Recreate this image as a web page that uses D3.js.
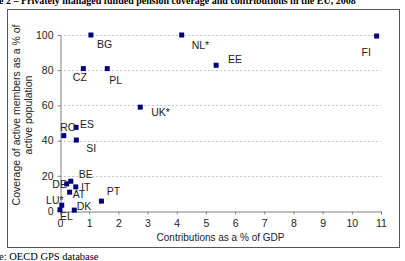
<!DOCTYPE html>
<html>
<head>
<meta charset="utf-8">
<script src="https://cdn.jsdelivr.net/npm/d3@7"></script>
<style>
  body { margin: 0; background: #fff; }
  svg { display: block; }
  text { font-family: "Liberation Sans", Arial, sans-serif; }
</style>
</head>
<body>
<div id="chart"></div>
<script>
// values
const countries = ["BG", "NL*", "FI", "EE", "CZ", "PL", "UK*", "ES", "RO", "SI",
                   "BE", "DE", "IT", "AT", "PT", "LU*", "EL", "DK"];
const contributions = [1.06, 4.17, 10.85, 5.35, 0.8, 1.62, 2.75, 0.55, 0.13, 0.56,
                       0.37, 0.23, 0.54, 0.33, 1.42, 0.06, 0.0, 0.49];
const coverage = [100, 100, 99.4, 82.8, 80.9, 80.9, 59, 47.5, 42.8, 40.3,
                  16.9, 15.4, 13.7, 10.7, 5.6, 3.3, 0.7, 0.5];
// where each country label sits relative to its marker (px)
const labelOffsets = [[6, 12.5], [10, 14], [-15, 19.5], [12, -2], [-10.5, 12], [2, 15],
                      [11, 9], [4, 1], [-3.5, -4.5], [10, 12], [8, -3.7], [-14.4, 3.7],
                      [5.3, 3.7], [3, 6], [5.4, -5.7], [-15.7, -1], [0, 10], [2.4, 0]];
const xTicks = d3.range(0, 12);
const yTicks = [0, 20, 40, 60, 80, 100];

const w = 405, h = 261;
const margin = ({ top: 35, right: 24, bottom: 50, left: 60 });

const svg = d3.select("#chart")
  .append("svg")
  .attr("width", w)
  .attr("height", h);

// outer frame
svg.append("rect")
  .attr("x", 7.5).attr("y", 9.5)
  .attr("width", 392).attr("height", 238)
  .attr("fill", "none")
  .attr("stroke", "#555")
  .attr("stroke-width", 1);

// title (cut off at the top of the picture)
svg.append("text")
  .attr("x", -1)
  .attr("y", 4)
  .style("font-family", "'Liberation Serif', 'Times New Roman', serif")
  .style("font-weight", "bold")
  .style("font-size", "10px")
  .text("e 2 \u2013 Privately managed funded pension coverage and contributions in the EU, 2008");

// source note
svg.append("text")
  .attr("x", -1)
  .attr("y", 259.5)
  .style("font-family", "'Liberation Serif', 'Times New Roman', serif")
  .style("font-size", "10.5px")
  .text("e: OECD GPS database");

let x = d3.scaleLinear()
  .domain([0, 11])
  .range([margin.left, w - margin.right]);

let y = d3.scaleLinear()
  .domain([0, 100])
  .range([h - margin.bottom, margin.top]);

// dashed gridlines
svg.append("g")
  .selectAll("line")
  .data(yTicks.filter(d => d > 0))
  .join("line")
  .attr("x1", x(0))
  .attr("x2", x(11))
  .attr("y1", d => Math.round(y(d)) + 0.5)
  .attr("y2", d => Math.round(y(d)) + 0.5)
  .attr("stroke", "#c8c8c8")
  .attr("stroke-dasharray", "2,2");

const xAxis = svg.append("g")
  .attr("transform", `translate(0,${Math.round(y(0)) + 0.5})`)
  .call(d3.axisBottom(x).tickValues(xTicks).tickSize(3).tickSizeOuter(0).tickPadding(5));

const yAxis = svg.append("g")
  .attr("transform", `translate(${x(0) + 0.5},0)`)
  .call(d3.axisLeft(y).tickValues(yTicks).tickSize(3).tickSizeOuter(0).tickPadding(4));

for (let ax of [xAxis, yAxis]) {
  ax.select(".domain").attr("stroke", "#808080");
  ax.selectAll(".tick line").attr("stroke", "#808080");
  ax.selectAll(".tick text")
    .attr("fill", "#222")
    .style("font-family", "'Liberation Sans', Arial, sans-serif")
    .style("font-size", "10.5px");
}

// axis titles
svg.append("text")
  .attr("x", 220.5)
  .attr("y", 241)
  .attr("fill", "#222")
  .style("text-anchor", "middle")
  .style("font-size", "10px")
  .text("Contributions as a % of GDP");

const yTitle = svg.append("text")
  .attr("transform", "translate(20,115) rotate(-90)")
  .attr("fill", "#222")
  .style("text-anchor", "middle")
  .style("font-size", "10.5px");
yTitle.append("tspan").attr("x", 0).attr("y", 0).text("Coverage of active members as a % of");
yTitle.append("tspan").attr("x", 0).attr("y", 12).text("active population");

const data = countries.map((c, i) => ({
  name: c, x: contributions[i], y: coverage[i], off: labelOffsets[i]
}));

// markers
svg.append("g")
  .attr("fill", "#000080")
  .selectAll("rect")
  .data(data)
  .join("rect")
  .attr("x", d => x(d.x) - 2.5)
  .attr("y", d => y(d.y) - 2.5)
  .attr("width", 5)
  .attr("height", 5);

// country labels
svg.append("g")
  .attr("fill", "#222")
  .style("font-size", "10.5px")
  .selectAll("text")
  .data(data)
  .join("text")
  .attr("x", d => x(d.x) + d.off[0])
  .attr("y", d => y(d.y) + d.off[1])
  .text(d => d.name);
</script>
</body>
</html>
